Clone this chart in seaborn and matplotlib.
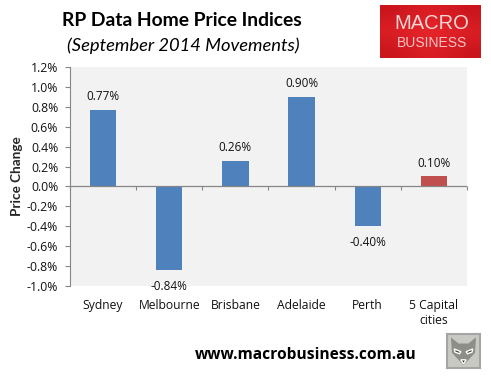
import numpy as np
import pandas as pd
import matplotlib
matplotlib.use('Agg')
import matplotlib.pyplot as plt
from matplotlib.colors import LinearSegmentedColormap
from matplotlib.patches import Polygon
from matplotlib.ticker import FuncFormatter
import seaborn as sns

cities = ['Sydney', 'Melbourne', 'Brisbane', 'Adelaide', 'Perth', '5 Capital\ncities']
changes = [0.77, -0.84, 0.26, 0.90, -0.40, 0.10]
bar_colors = ['#4F81BD', '#4F81BD', '#4F81BD', '#4F81BD', '#4F81BD', '#C0504D']
y_ticks = [-1.0, -0.8, -0.6, -0.4, -0.2, 0.0, 0.2, 0.4, 0.6, 0.8, 1.0, 1.2]

W, H = 491, 377
sns.set_style('white')
plt.rcParams['font.family'] = ['Open Sans', 'DejaVu Sans']

df = pd.DataFrame({'city': cities, 'change': changes})
fig = plt.figure(figsize=(W / 100, H / 100), dpi=100, facecolor='white')
ax = fig.add_axes([70 / W, 1 - 286 / H, 397 / W, 219 / H], facecolor='#F2F2F2')

sns.barplot(data=df, x='city', y='change', hue='city', palette=bar_colors,
            legend=False, width=0.4, saturation=1, linewidth=0, ax=ax)
ax.set_ylim(-1.0, 1.2)
ax.set_xlim(-0.5, 5.5)
ax.set_yticks(y_ticks)
ax.yaxis.set_major_formatter(FuncFormatter(lambda v, p: '%.1f%%' % v))
ax.set_xlabel('')
ax.set_ylabel('Price Change', fontsize=9.7, fontweight='bold', family=['Lato', 'DejaVu Sans'])
ax.yaxis.set_label_coords(-47 / 397, 0.5)
ax.tick_params(axis='y', length=3.5, width=0.8, color='#868686', labelsize=8.8, pad=5, left=True)
ax.tick_params(axis='x', length=0, labelsize=8.7, pad=9.5)
for lab in ax.get_xticklabels() + ax.get_yticklabels():
    lab.set_color('#111111')

for s in ['top', 'right', 'bottom']:
    ax.spines[s].set_visible(False)
ax.spines['left'].set_color('#868686')
ax.spines['left'].set_linewidth(0.8)
ax.axhline(0, color='#868686', lw=0.9)
# category boundary ticks hang off the zero line
ax.vlines(np.arange(len(cities) + 1) - 0.5, -0.035, 0, color='#868686', lw=0.8, clip_on=False)

for i, v in enumerate(changes):
    off = 5 if v > 0 else -7
    ax.annotate('%.2f%%' % v, (i, v), xytext=(0, off), textcoords='offset points',
                ha='center', va='bottom' if v > 0 else 'top', fontsize=8.5, color='#111111')

# header and footer text
fig.text(182 / W, 1 - 21 / H, 'RP Data Home Price Indices', ha='center', va='center',
         fontsize=13.9, fontweight='bold', family=['Lato', 'DejaVu Sans'], color='black')
fig.text(183 / W, 1 - 46 / H, '(September 2014 Movements)', ha='center', va='center',
         fontsize=13.2, style='italic', family=['Lato', 'DejaVu Sans'], color='black')
fig.text(306 / W, 1 - 355 / H, 'www.macrobusiness.com.au', ha='center', va='center',
         fontsize=11.2, fontweight='bold', color='black')

# MACRO BUSINESS logo
logo = fig.add_axes([380 / W, 1 - 58 / H, 101 / W, 53 / H])
logo.set_xticks([])
logo.set_yticks([])
for s in logo.spines.values():
    s.set_visible(False)
logo.set_xlim(0, 1)
logo.set_ylim(0, 1)
shade = np.array([[0.0, 0.6, 0.0], [0.6, 1.0, 0.6], [0.0, 0.6, 0.0]])
logo.imshow(shade, cmap=LinearSegmentedColormap.from_list('r', ['#C8141C', '#EE2A2E']),
            extent=(0, 1, 0, 1), aspect='auto', interpolation='bicubic')
logo.text(0.51, 0.65, 'MACRO', color='#F6D5D5', fontsize=14.5, ha='center', va='center',
          family=['Liberation Sans', 'DejaVu Sans'])
logo.text(0.51, 0.28, 'BUSINESS', color='#F6C5C5', fontsize=10, ha='center', va='center',
          family=['Liberation Sans', 'DejaVu Sans'])

# wolf badge, drawn roughly
badge = fig.add_axes([447 / W, 1 - 368 / H, 33 / W, 34 / H], facecolor='#C9C9C4')
badge.set_xticks([])
badge.set_yticks([])
badge.set_xlim(0, 1)
badge.set_ylim(0, 1)
for s in badge.spines.values():
    s.set_color('#A5A5A5')
    s.set_linewidth(1.5)
badge.add_patch(Polygon([(0.12, 0.9), (0.35, 0.72), (0.65, 0.72), (0.88, 0.9), (0.85, 0.45),
                         (0.5, 0.08), (0.15, 0.45)], facecolor='#8E8E89', edgecolor='none'))
badge.add_patch(Polygon([(0.22, 0.56), (0.42, 0.48), (0.38, 0.42), (0.24, 0.47)], facecolor='#3A3A3A'))
badge.add_patch(Polygon([(0.78, 0.56), (0.58, 0.48), (0.62, 0.42), (0.76, 0.47)], facecolor='#3A3A3A'))
badge.add_patch(Polygon([(0.42, 0.24), (0.58, 0.24), (0.5, 0.12)], facecolor='#2A2A2A'))

fig.savefig('out.png', dpi=100)
